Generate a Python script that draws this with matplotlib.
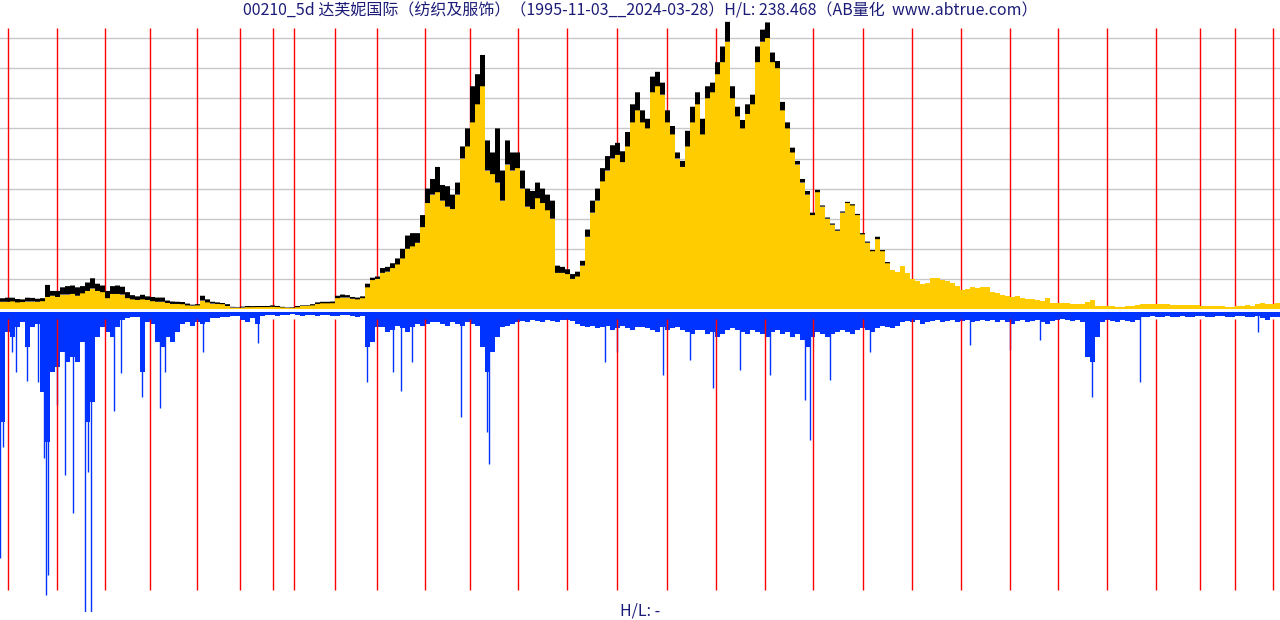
import numpy as np
import matplotlib
matplotlib.use("Agg")
import matplotlib.pyplot as plt

plt.rcParams['font.family'] = ['Noto Sans CJK SC', 'DejaVu Sans']

title = "00210_5d 达芙妮国际（纺织及服饰）（1995-11-03__2024-03-28）H/L: 238.468（AB量化  www.abtrue.com）"
footer = "H/L: -"

# 5-day bars, grouped 5 bars per bin; prices relative to the lowest low (=1)
bin_size = 5
close = [6, 6, 6.3, 5.5, 5.8, 6.2, 6.2, 6, 6.5, 10, 11, 10, 12, 12, 12.5, 11, 13, 15, 17, 15,
         14, 9, 12.5, 12.5, 12, 9, 8, 7.5, 8, 7.5, 6.5, 6, 6, 5, 4.2, 4.2, 4, 3, 2.8, 3,
         7, 5.5, 4.5, 4.2, 4, 2.5, 1.2, 1.2, 1.2, 1.5, 1.5, 1.6, 1.6, 1.6, 1.8, 1.6, 1.3, 0.8, 0.8, 1.5,
         2.5, 2.5, 3, 4.2, 4.7, 4.7, 4.8, 9, 9.5, 9.5, 8.5, 8, 9, 18, 24, 25, 30, 31, 34, 37,
         42, 50, 52, 55, 68, 88, 95, 97, 90, 85, 83, 95, 125, 135, 155, 170, 185, 115, 112, 105,
         90, 120, 115, 117, 100, 85, 83, 92, 88, 82, 75, 30, 30, 29, 25, 27, 36, 60, 80, 90,
         106, 115, 125, 128, 122, 135, 155, 165, 155, 150, 180, 185, 178, 155, 145, 125, 118, 135, 155, 170,
         145, 175, 180, 195, 205, 222, 175, 160, 150, 162, 170, 205, 222, 225, 205, 200, 165, 150, 130, 120,
         105, 95, 78, 97, 85, 75, 70, 65, 80, 88, 86, 78, 62, 55, 48, 58, 48, 38, 32, 31,
         36, 30, 25, 23, 21, 22, 26, 26, 24, 23, 22, 19, 16, 17, 18, 17.5, 18, 18, 14, 13,
         12, 11, 10, 10.5, 9.5, 8.5, 8, 7.5, 7, 9, 5, 4.7, 4.7, 4.7, 4.5, 4.2, 3.8, 5.5, 7.5, 2.8,
         2.8, 2.8, 2.8, 1.7, 1.9, 2.5, 2.6, 3.5, 4.2, 4.3, 4.2, 4.2, 4.1, 4.0, 3.3, 3.3, 3.3, 3.3, 3.3, 3.0,
         2.5, 2.5, 2.5, 2.5, 2.5, 1.7, 1.7, 2.8, 2.8, 3.2, 2.8, 4.4, 4.6, 4.0, 3.8, 4.6]

# highs where the high/low range is still visible; later bins show no range
high_head = [8.9, 9.4, 9.4, 8.3, 8, 9.4, 9.2, 8.5, 9, 20, 15, 15, 18, 19, 19.5, 18, 19, 22, 25.5, 21,
             19.5, 15, 19, 19.5, 18.5, 14, 11.5, 10.5, 11.8, 10.5, 10, 9.5, 9.5, 7, 6.2, 6, 5.8, 4.5, 3.6, 4,
             11, 8, 6, 5.5, 5, 4, 1.8, 1.7, 2, 2.5, 2.4, 2.5, 2.5, 2.5, 3, 2.5, 1.8, 1.2, 1.3, 2.5,
             3, 3, 4, 5.5, 6, 6, 6.2, 11, 12, 11.5, 10, 9.5, 10.5, 21, 26, 27, 34, 35, 38, 42,
             50, 61, 63, 63, 78, 100, 108, 118, 103, 102, 95, 105, 135, 150, 185, 195, 211, 140, 130, 150,
             115, 140, 130, 130, 115, 100, 98, 105, 100, 95, 90, 36, 35, 33, 29, 31, 40, 66, 90, 100,
             117, 127, 136, 138, 131, 147, 170, 180, 165, 158, 193, 197, 188, 165, 152, 130, 123, 148, 168, 180,
             158, 185, 188, 205, 218, 238.5, 185, 168, 157, 170, 178, 218, 232, 238, 213, 206, 172, 155, 134, 123,
             108, 98, 80, 99, 86, 76, 71, 66, 81, 89, 87, 79, 63, 56, 49, 60, 49, 39]
high = high_head + close[len(high_head):]

# volume per bin (dense body) plus single-bar spikes
volume = [110, 20, 25, 15, 10, 35, 15, 12, 80, 130, 60, 55, 40, 50, 45, 50, 30, 110, 90, 25,
          15, 20, 25, 15, 8, 6, 5, 5, 60, 10, 12, 30, 35, 25, 30, 20, 12, 10, 14, 10,
          12, 10, 6, 6, 5, 5, 4, 4, 8, 10, 6, 12, 4, 3, 3, 4, 3, 3, 2, 3,
          4, 3, 3, 4, 3, 3, 4, 4, 3, 3, 4, 5, 4, 35, 30, 15, 15, 20, 18, 14,
          16, 20, 15, 12, 14, 12, 10, 10, 12, 14, 10, 12, 14, 10, 12, 14, 35, 60, 40, 25,
          15, 14, 12, 10, 9, 10, 8, 9, 10, 8, 9, 10, 8, 8, 9, 12, 14, 15, 14, 16,
          15, 14, 18, 16, 14, 16, 18, 15, 15, 16, 18, 20, 15, 18, 16, 15, 18, 20, 22, 18,
          18, 22, 20, 25, 22, 18, 16, 18, 20, 22, 18, 20, 22, 25, 20, 18, 22, 20, 25, 22,
          28, 35, 25, 20, 22, 25, 22, 20, 18, 20, 22, 18, 16, 18, 20, 16, 14, 15, 16, 14,
          10, 9, 10, 8, 12, 10, 9, 8, 10, 9, 8, 10, 9, 8, 10, 9, 8, 9, 8, 10,
          8, 10, 12, 9, 8, 10, 9, 8, 10, 12, 9, 8, 7, 8, 9, 8, 10, 45, 50, 25,
          10, 8, 9, 10, 8, 9, 10, 8, 5, 5, 4, 5, 5, 4, 5, 5, 4, 5, 5, 4,
          4, 5, 5, 4, 4, 5, 5, 4, 4, 5, 5, 4, 6, 8, 5, 5]
spike_bar = [0, 2, 3, 12, 16, 27, 38, 44, 46, 48, 57, 65, 73, 85, 88, 91, 114, 121, 142, 160,
             165, 203, 258, 367, 393, 401, 412, 461, 487, 489, 605, 617, 663, 690, 713, 740, 770, 805, 810, 830,
             870, 970, 1010, 1040, 1092, 1140, 1258]
spike_vol = [246, 108, 135, 40, 60, 69, 70, 146, 283, 263, 93, 163, 201, 300, 160, 300, 99, 61, 85, 96,
             60, 40, 31, 70, 60, 79, 50, 105, 120, 152, 50, 40, 63, 48, 76, 58, 63, 88, 128, 68,
             40, 33, 38, 28, 85, 70, 20]

# bar number where each year starts (1996 ... 2024)
year_start = [8, 57, 105, 150, 197, 240, 273, 294, 335, 377, 425, 470, 518, 567, 617, 667, 716, 765,
              813, 863, 912, 961, 1010, 1058, 1107, 1156, 1200, 1235, 1273]

yellow = '#FFCC00'
blue = '#0033FF'
navy = '#1C1C78'

n_bars = len(close) * bin_size
edges = np.arange(len(close) + 1) * bin_size

fig = plt.figure(figsize=(12.8, 6.2), dpi=100)
W, H = 1280, 620

# price panel: y px 20..309
ax1 = fig.add_axes([0, (H - 309) / H, 1, 289 / H])
p_top = 289 / 1.204
ax1.set_xlim(0, n_bars)
ax1.set_ylim(0, p_top)
for g in np.arange(25, 226, 25):
    ax1.axhline(g, color='#C8C8C8', lw=1.0, zorder=0)
ax1.vlines(year_start, 0, p_top - 8 / 1.204, color='red', lw=1.0, zorder=1)
ax1.stairs(close, edges, baseline=0, fill=True, color=yellow, zorder=2)
ax1.stairs(high, edges, baseline=close, fill=True, color='black', zorder=3)
ax1.axis('off')

# volume panel: y px 312..612, drawn downward
ax2 = fig.add_axes([0, (H - 612) / H, 1, 300 / H])
ax2.set_xlim(0, n_bars)
ax2.set_ylim(300, 0)
ax2.stairs(volume, edges, baseline=0, fill=True, color=blue, zorder=2)
ax2.vlines(spike_bar, 0, spike_vol, color=blue, lw=1.0, zorder=2)
ax2.vlines(year_start, 7, 278, color='red', lw=1.0, zorder=3)
ax2.axis('off')

fig.text(0.5, 1 - 11 / H, title, ha='center', va='center', fontsize=11.5, color=navy)
fig.text(0.5, 1 - 611 / H, footer, ha='center', va='center', fontsize=11.5, color=navy)

fig.savefig('out.png', dpi=100)
